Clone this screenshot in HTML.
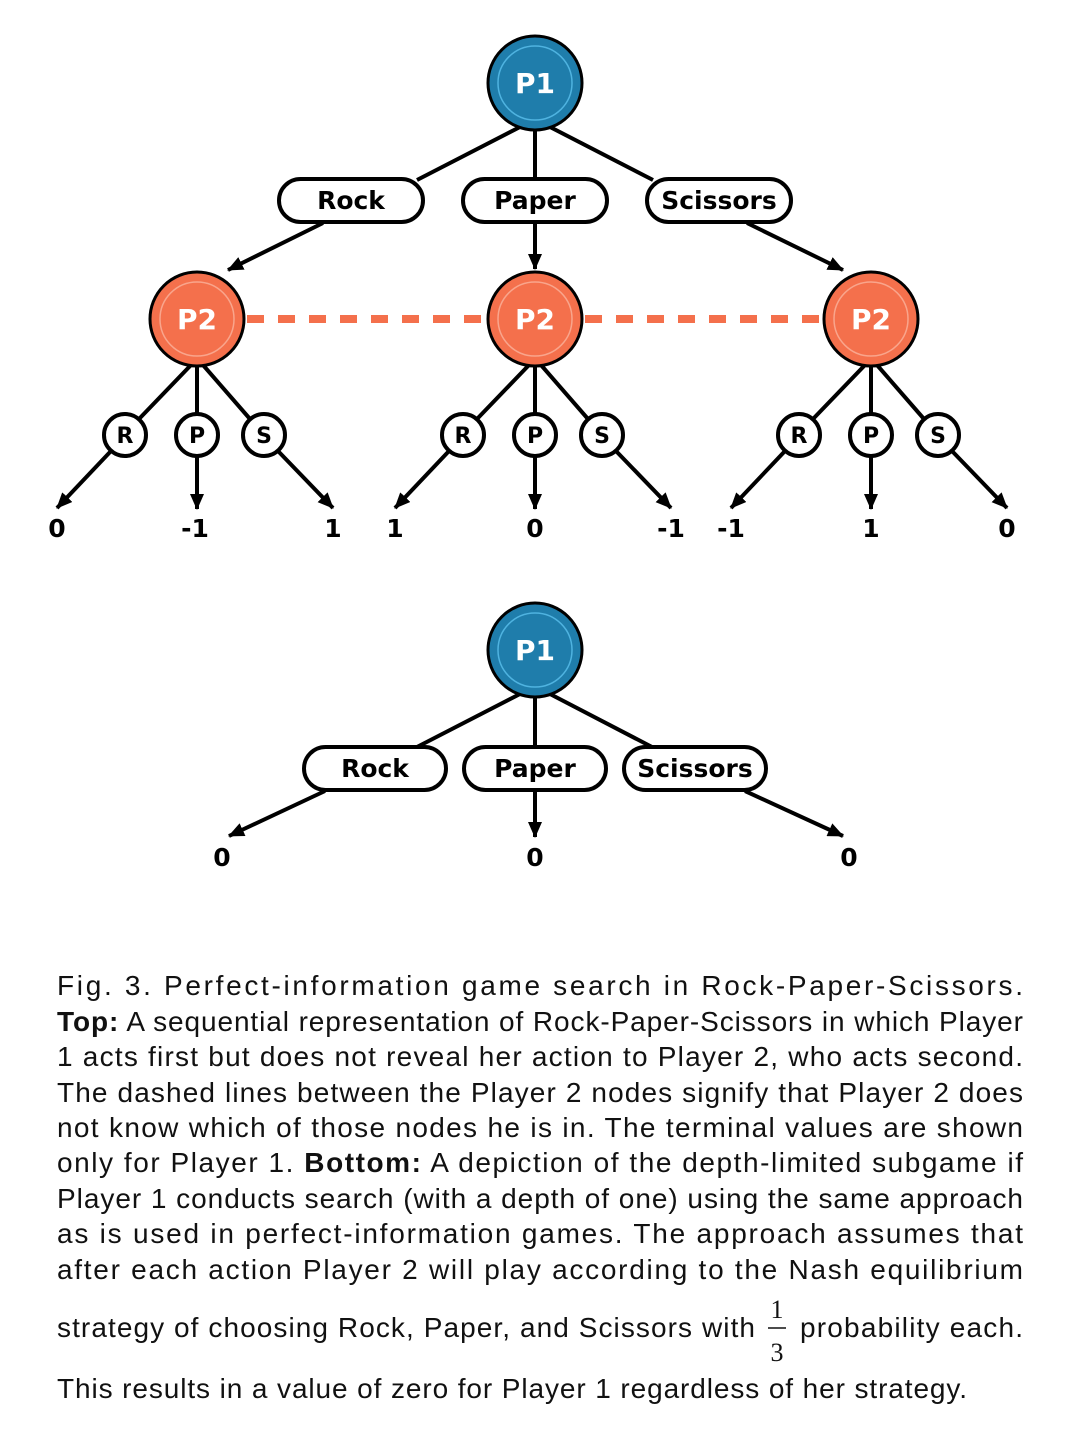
<!DOCTYPE html>
<html><head><meta charset="utf-8"><style>
html,body{margin:0;padding:0;background:#fff;}
svg{display:block;}
.n{font-family:"DejaVu Sans","Liberation Sans",sans-serif;font-weight:bold;}
.c{font-family:"Liberation Sans",sans-serif;font-size:28px;fill:#111;}
</style></head><body>
<svg width="1080" height="1433" viewBox="0 0 1080 1433" xmlns="http://www.w3.org/2000/svg">
<defs>
<marker id="a" markerUnits="userSpaceOnUse" markerWidth="16" markerHeight="14" refX="15" refY="7" orient="auto">
<path d="M0,0 L16,7 L0,14 z" fill="#000"/>
</marker>
</defs>
<g stroke="#000" stroke-width="4" fill="none">
<!-- top tree -->
<line x1="520" y1="127" x2="417" y2="180"/>
<line x1="535" y1="130" x2="535" y2="178"/>
<line x1="550" y1="127" x2="653" y2="180"/>
<line x1="323" y1="223" x2="228" y2="270" marker-end="url(#a)"/>
<line x1="535" y1="222" x2="535" y2="269" marker-end="url(#a)"/>
<line x1="747" y1="223" x2="843" y2="270" marker-end="url(#a)"/>
<!-- bottom tree -->
<line x1="520" y1="694" x2="417" y2="747"/>
<line x1="535" y1="697" x2="535" y2="746"/>
<line x1="550" y1="694" x2="652" y2="747"/>
<line x1="325" y1="791" x2="229" y2="836" marker-end="url(#a)"/>
<line x1="535" y1="791" x2="535" y2="837" marker-end="url(#a)"/>
<line x1="745" y1="791" x2="843" y2="836" marker-end="url(#a)"/>
</g>
<!-- dashed -->
<line x1="247" y1="319" x2="486" y2="319" stroke="#f4704c" stroke-width="8" stroke-dasharray="17,14"/>
<line x1="585" y1="319" x2="823" y2="319" stroke="#f4704c" stroke-width="8" stroke-dasharray="17,14"/>

<!-- subtrees -->
<g id="s1" stroke="#000" stroke-width="4" fill="none">
<line x1="191" y1="365" x2="139" y2="419"/>
<line x1="197" y1="365" x2="197" y2="413"/>
<line x1="203" y1="365" x2="250" y2="419"/>
<line x1="111" y1="451" x2="57" y2="508" marker-end="url(#a)"/>
<line x1="197" y1="457" x2="197" y2="509" marker-end="url(#a)"/>
<line x1="278" y1="451" x2="333" y2="508" marker-end="url(#a)"/>
<circle cx="125" cy="435" r="21" fill="#fff"/>
<circle cx="197" cy="435" r="21" fill="#fff"/>
<circle cx="264" cy="435" r="21" fill="#fff"/>
</g>
<g stroke="#000" stroke-width="4" fill="none">
<line x1="529" y1="365" x2="477" y2="419"/>
<line x1="535" y1="365" x2="535" y2="413"/>
<line x1="541" y1="365" x2="588" y2="419"/>
<line x1="449" y1="451" x2="395" y2="508" marker-end="url(#a)"/>
<line x1="535" y1="457" x2="535" y2="509" marker-end="url(#a)"/>
<line x1="616" y1="451" x2="671" y2="508" marker-end="url(#a)"/>
<circle cx="463" cy="435" r="21" fill="#fff"/>
<circle cx="535" cy="435" r="21" fill="#fff"/>
<circle cx="602" cy="435" r="21" fill="#fff"/>
</g>
<g stroke="#000" stroke-width="4" fill="none">
<line x1="865" y1="365" x2="813" y2="419"/>
<line x1="871" y1="365" x2="871" y2="413"/>
<line x1="877" y1="365" x2="924" y2="419"/>
<line x1="785" y1="451" x2="731" y2="508" marker-end="url(#a)"/>
<line x1="871" y1="457" x2="871" y2="509" marker-end="url(#a)"/>
<line x1="952" y1="451" x2="1007" y2="508" marker-end="url(#a)"/>
<circle cx="799" cy="435" r="21" fill="#fff"/>
<circle cx="871" cy="435" r="21" fill="#fff"/>
<circle cx="938" cy="435" r="21" fill="#fff"/>
</g>
<g class="n" font-size="22" text-anchor="middle" fill="#000">
<text x="125" y="443">R</text><text x="197" y="443">P</text><text x="264" y="443">S</text>
<text x="463" y="443">R</text><text x="535" y="443">P</text><text x="602" y="443">S</text>
<text x="799" y="443">R</text><text x="871" y="443">P</text><text x="938" y="443">S</text>
</g>
<g class="n" font-size="25" text-anchor="middle" fill="#000">
<text x="57" y="537">0</text><text x="195" y="537">-1</text><text x="333" y="537">1</text>
<text x="395" y="537">1</text><text x="535" y="537">0</text><text x="671" y="537">-1</text>
<text x="731" y="537">-1</text><text x="871" y="537">1</text><text x="1007" y="537">0</text>
<text x="222" y="866">0</text><text x="535" y="866">0</text><text x="849" y="866">0</text>
</g>

<!-- label boxes -->
<g stroke="#000" stroke-width="4" fill="#fff">
<rect x="279" y="179" width="144" height="43" rx="21.5"/>
<rect x="463" y="179" width="144" height="43" rx="21.5"/>
<rect x="647" y="179" width="144" height="43" rx="21.5"/>
<rect x="304" y="747" width="142" height="43" rx="21.5"/>
<rect x="464" y="747" width="142" height="43" rx="21.5"/>
<rect x="624" y="747" width="142" height="43" rx="21.5"/>
</g>
<g class="n" font-size="25" text-anchor="middle" fill="#000">
<text x="351" y="209">Rock</text><text x="535" y="209">Paper</text><text x="719" y="209">Scissors</text>
<text x="375" y="777">Rock</text><text x="535" y="777">Paper</text><text x="695" y="777">Scissors</text>
</g>

<!-- player nodes -->
<g stroke="#000" stroke-width="3">
<circle cx="535" cy="83" r="47" fill="#1f7dab"/>
<circle cx="535" cy="650" r="47" fill="#1f7dab"/>
<circle cx="197" cy="319" r="47" fill="#f4704c"/>
<circle cx="535" cy="319" r="47" fill="#f4704c"/>
<circle cx="871" cy="319" r="47" fill="#f4704c"/>
</g>
<g fill="none" stroke-width="1.5">
<circle cx="535" cy="83" r="37" stroke="#4fb3e0"/>
<circle cx="535" cy="650" r="37" stroke="#4fb3e0"/>
<circle cx="197" cy="319" r="37" stroke="#f9a58c"/>
<circle cx="535" cy="319" r="37" stroke="#f9a58c"/>
<circle cx="871" cy="319" r="37" stroke="#f9a58c"/>
</g>
<g class="n" font-size="28" text-anchor="middle" fill="#fff">
<text x="535" y="93">P1</text><text x="535" y="660">P1</text>
<text x="197" y="329">P2</text><text x="535" y="329">P2</text><text x="871" y="329">P2</text>
</g>

<!-- caption -->
<g class="c">
<text x="57" y="995" textLength="966" lengthAdjust="spacing">Fig. 3. Perfect-information game search in Rock-Paper-Scissors.</text>
<text x="57" y="1031" textLength="966" lengthAdjust="spacing"><tspan font-weight="bold">Top:</tspan> A sequential representation of Rock-Paper-Scissors in which Player</text>
<text x="57" y="1066" textLength="966" lengthAdjust="spacing">1 acts first but does not reveal her action to Player 2, who acts second.</text>
<text x="57" y="1102" textLength="966" lengthAdjust="spacing">The dashed lines between the Player 2 nodes signify that Player 2 does</text>
<text x="57" y="1137" textLength="966" lengthAdjust="spacing">not know which of those nodes he is in. The terminal values are shown</text>
<text x="57" y="1172" textLength="966" lengthAdjust="spacing">only for Player 1. <tspan font-weight="bold">Bottom:</tspan> A depiction of the depth-limited subgame if</text>
<text x="57" y="1208" textLength="966" lengthAdjust="spacing">Player 1 conducts search (with a depth of one) using the same approach</text>
<text x="57" y="1243" textLength="966" lengthAdjust="spacing">as is used in perfect-information games. The approach assumes that</text>
<text x="57" y="1279" textLength="966" lengthAdjust="spacing">after each action Player 2 will play according to the Nash equilibrium</text>
<text x="57" y="1337" textLength="698" lengthAdjust="spacing">strategy of choosing Rock, Paper, and Scissors with</text>
<text x="800" y="1337" textLength="223" lengthAdjust="spacing">probability each.</text>
<text x="57" y="1398" textLength="910" lengthAdjust="spacing">This results in a value of zero for Player 1 regardless of her strategy.</text>
</g>
<g font-family="Liberation Serif,serif" font-size="26" text-anchor="middle" fill="#111">
<text x="777" y="1318">1</text>
<text x="777" y="1361">3</text>
</g>
<line x1="768" y1="1328" x2="786" y2="1328" stroke="#111" stroke-width="1.5"/>
</svg>
</body></html>
